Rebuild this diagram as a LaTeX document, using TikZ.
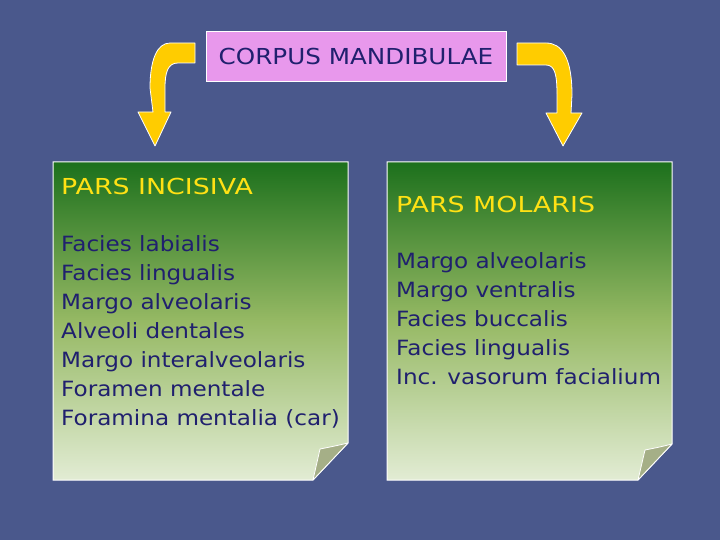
\documentclass[tikz,border=0pt]{standalone}
\usepackage{fontspec}
\setmainfont{DejaVu Sans}
\newfontfamily\bodyfont[FakeStretch=1.1]{DejaVu Sans}
\newfontfamily\capsfont[FakeStretch=1.22]{DejaVu Sans}
\newfontfamily\titlefont[FakeStretch=1.12]{DejaVu Sans}
\definecolor{bgblue}{RGB}{74,88,140}
\definecolor{arrowyel}{RGB}{255,204,0}
\definecolor{titlepink}{RGB}{232,152,236}
\definecolor{navytext}{RGB}{32,32,110}
\definecolor{headyel}{RGB}{255,225,20}
\definecolor{gtop}{RGB}{28,112,28}
\definecolor{gmid}{RGB}{150,185,100}
\definecolor{gbot}{RGB}{226,236,212}
\definecolor{flapcol}{RGB}{165,175,135}
\tikzset{
  bentarrow/.style={fill=arrowyel, draw=white, line width=0.8pt, line join=round},
  notecard/.style={draw=white, line width=1pt, top color=gtop, bottom color=gbot, middle color=gmid},
  flap/.style={fill=flapcol, draw=white, line width=0.8pt, line join=round},
  titlebox/.style={fill=titlepink, draw=white, line width=1pt, minimum width=300pt, minimum height=50pt, inner sep=0pt, font=\titlefont\fontsize{22}{26}\selectfont, text=navytext},
  head/.style={anchor=base west, inner sep=0pt, font=\capsfont\fontsize{22}{26}\selectfont, text=headyel},
  body/.style={inner sep=0pt, font=\bodyfont\fontsize{21}{29}\selectfont, text=navytext, align=left}
}
\begin{document}
\begin{tikzpicture}[x=1pt,y=-1pt]
\useasboundingbox (0,0) rectangle (720,540);
\fill[bgblue] (0,0) rectangle (720,540);
% title
\node[titlebox] (title) at (356,56.5) {CORPUS MANDIBULAE};
% arrows
\draw[bentarrow] (195,43) -- (170,43) .. controls (157,43) and (150,60) .. (150,88) -- (153,112) -- (138,112) -- (155,146) -- (171,112) -- (165,112) -- (165,88) .. controls (165,72) and (168,63) .. (178,63) -- (195,63) -- cycle;
\draw[bentarrow] (517,43) -- (546,43) .. controls (562,43) and (572,58) .. (572,95) -- (571,113) -- (582,113) -- (563,146) -- (546,113) -- (557,113) -- (557,95) .. controls (557,75) and (555,65) .. (546,65) -- (517,65) -- cycle;
% left note
\shade[notecard] (53,162) -- (348,162) -- (348,443) -- (313,480) -- (53,480) -- cycle;
\draw[flap] (313,480) .. controls (317,465) .. (320,449) .. controls (335,446) .. (348,443) -- cycle;
\node[head] (pi) at (61,195) {PARS INCISIVA};
\node[body, anchor=north west] (pilist) at (61,235) {Facies labialis\\Facies lingualis\\Margo alveolaris\\Alveoli dentales\\Margo interalveolaris\\Foramen mentale\\Foramina mentalia (car)};
% right note
\shade[notecard] (387,162) -- (672,162) -- (672,444) -- (638,480) -- (387,480) -- cycle;
\draw[flap] (638,480) .. controls (642,465) .. (645,450) .. controls (660,447) .. (672,444) -- cycle;
\node[head] (pm) at (396,212) {PARS MOLARIS};
\node[body, anchor=north west] (pmlist) at (396,252) {Margo alveolaris\\Margo ventralis\\Facies buccalis\\Facies lingualis\\Inc. vasorum facialium};
\end{tikzpicture}
\end{document}
